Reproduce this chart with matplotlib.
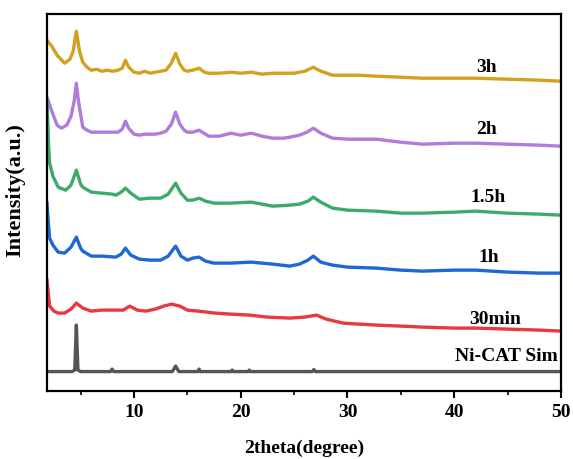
import matplotlib
matplotlib.use("Agg")
import matplotlib.pyplot as plt
from matplotlib.ticker import MultipleLocator

# ---- data (intensity in arbitrary units, vertically stacked as in the figure) ----
x_3h = [1.85, 2.3, 2.8, 3.5, 4.0, 4.3, 4.6, 4.9, 5.2, 5.6, 6.0, 6.5, 7.0, 7.5, 8.0, 8.5, 8.9, 9.2, 9.5,
        10.0, 10.5, 11.0, 11.5, 12.0, 12.5, 13.0, 13.5, 13.9, 14.3, 14.7, 15.0, 15.5, 16.1, 16.6, 17.0,
        18.0, 19.1, 20.0, 21.0, 22.0, 23.0, 24.0, 25.0, 26.0, 26.8, 27.5, 28.6, 30.0, 31.0, 32.7, 35.0,
        37.0, 40.0, 42.0, 45.0, 48.0, 50.0]
y_3h = [351, 345, 336, 328, 332, 340, 360, 340, 329, 324, 321, 322, 320, 321, 320, 321, 323, 331, 324,
        319, 318, 320, 318, 319, 320, 321, 328, 338, 327, 321, 320, 321, 323, 319, 318,
        318, 319, 318, 319, 317, 318, 318, 318, 320, 324, 320, 316, 316, 316, 315, 314,
        313, 313, 313, 312, 311, 310]

x_2h = [1.85, 2.3, 2.8, 3.2, 3.7, 4.1, 4.4, 4.6, 4.8, 5.2, 5.6, 6.0, 7.0, 8.0, 8.5, 8.9, 9.2, 9.5,
        10.0, 10.5, 11.0, 12.0, 12.5, 13.0, 13.5, 13.9, 14.3, 14.7, 15.0, 15.5, 16.1, 16.7, 17.0,
        18.0, 19.1, 20.0, 21.0, 22.0, 23.0, 24.0, 24.6, 25.5, 26.2, 26.8, 27.5, 28.6, 30.0, 31.0,
        32.7, 35.0, 37.0, 40.0, 42.0, 45.0, 48.0, 50.0]
y_2h = [294, 280, 266, 263, 266, 275, 290, 308, 290, 264, 261, 259, 259, 259, 259, 262, 270, 263,
        257, 256, 257, 257, 258, 260, 267, 279, 267, 261, 259, 259, 261, 257, 255,
        255, 258, 256, 258, 255, 253, 253, 254, 256, 259, 263, 258, 253, 252, 252,
        252, 249, 247, 248, 248, 247, 246, 245]

x_15h = [1.85, 2.0, 2.1, 2.4, 2.9, 3.6, 4.1, 4.6, 5.0, 5.2, 6.0, 7.0, 8.0, 8.3, 8.8, 9.2, 9.7,
         10.5, 11.5, 12.5, 13.2, 13.9, 14.4, 15.0, 15.5, 16.1, 16.7, 17.5, 19.0, 21.0, 22.0, 23.0,
         24.6, 25.5, 26.3, 26.8, 27.5, 28.6, 30.0, 32.7, 35.0, 37.0, 40.0, 42.0, 45.0, 48.0, 50.0]
y_15h = [291, 245, 228, 215, 204, 201, 206, 221, 207, 204, 199, 198, 197, 196, 199, 203, 198,
         192, 193, 193, 197, 208, 198, 191, 191, 193, 190, 188, 188, 189, 187, 185,
         186, 187, 190, 194, 189, 183, 181, 180, 178, 178, 179, 180, 178, 177, 176]

x_1h = [1.85, 2.0, 2.1, 2.4, 2.9, 3.5, 4.1, 4.6, 5.0, 5.2, 6.0, 7.0, 8.3, 8.8, 9.2, 9.7,
        10.5, 11.5, 12.5, 13.2, 13.9, 14.4, 15.0, 15.5, 16.1, 16.7, 17.5, 19.0, 21.0, 23.0,
        24.6, 25.5, 26.3, 26.8, 27.5, 28.6, 30.0, 32.7, 35.0, 37.0, 40.0, 42.0, 45.0, 48.0, 50.0]
y_1h = [188, 165, 153, 146, 139, 138, 144, 154, 143, 140, 135, 135, 134, 137, 143, 136,
        132, 131, 131, 135, 145, 135, 131, 133, 134, 130, 128, 128, 129, 127,
        125, 127, 131, 135, 129, 126, 124, 123, 121, 120, 121, 121, 119, 118, 118]

x_30min = [1.85, 2.0, 2.1, 2.5, 2.9, 3.5, 4.1, 4.6, 5.2, 6.0, 7.0, 8.0, 9.0, 9.6, 10.3, 11.1,
           12.0, 12.8, 13.5, 14.3, 15.0, 16.0, 17.6, 19.0, 20.8, 22.5, 24.6, 26.0, 27.1, 28.0,
           29.6, 31.0, 32.7, 35.0, 37.0, 40.0, 42.0, 45.0, 48.0, 50.0]
y_30min = [111, 95, 85, 80, 78, 78, 82, 88, 83, 80, 81, 81, 81, 85, 81, 80,
           82, 85, 87, 85, 81, 80, 78, 77, 76, 74, 73, 74, 76, 72,
           68, 67, 66, 65, 64, 63, 63, 62, 61, 60]

x_sim = [1.85, 4.2, 4.45, 4.6, 4.75, 5.0, 7.8, 7.95, 8.1, 13.6, 13.9, 14.2, 16.0, 16.1, 16.2,
         19.1, 19.2, 19.3, 20.7, 20.8, 20.9, 26.7, 26.85, 27.0, 50.0]
y_sim = [19.5, 19.5, 21, 66, 21, 19.5, 19.5, 22, 19.5, 19.5, 25, 19.5, 19.5, 22, 19.5,
         19.5, 21, 19.5, 19.5, 21, 19.5, 19.5, 21.5, 19.5, 19.5]

labels = ["3h", "2h", "1.5h", "1h", "30min", "Ni-CAT Sim"]
colors = ["#D4A020", "#B07CDA", "#3DAA6C", "#1F68D4", "#E8393E", "#555555"]
label_x = [43.0, 43.0, 43.2, 43.2, 43.8, 44.9]
label_y = [315, 253, 185, 125, 63, 26]

series = [(x_3h, y_3h), (x_2h, y_2h), (x_15h, y_15h), (x_1h, y_1h), (x_30min, y_30min), (x_sim, y_sim)]

plt.rcParams['font.family'] = ['Liberation Serif', 'DejaVu Serif']
plt.rcParams['font.weight'] = 'bold'

fig = plt.figure(figsize=(5.73, 4.59), dpi=100)
ax = fig.add_axes([0.082, 0.148, 0.897, 0.821])

for (xs, ys), c in zip(series, colors):
    ax.plot(xs, ys, color=c, lw=2.4, solid_joinstyle='round')

for t, xx, yy in zip(labels, label_x, label_y):
    ax.text(xx, yy, t, ha='center', va='bottom', fontsize=14, fontweight='bold')

ax.set_xlim(1.85, 50)
ax.set_ylim(0, 377)
ax.set_yticks([])
ax.xaxis.set_major_locator(MultipleLocator(10))
ax.xaxis.set_minor_locator(MultipleLocator(5))
ax.tick_params(axis='x', which='major', direction='out', length=5, width=1.5, labelsize=14, pad=4)
ax.tick_params(axis='x', which='minor', direction='out', length=3, width=1.2)
for lab in ax.get_xticklabels():
    lab.set_fontweight('bold')
for s in ax.spines.values():
    s.set_linewidth(1.6)

ax.set_xlabel("2theta(degree)", fontsize=14, fontweight='bold', labelpad=14)
ax.set_ylabel("Intensity(a.u.)", fontsize=16, fontweight='bold')
ax.yaxis.set_label_coords(-0.042, 0.533)

fig.savefig("out.png", dpi=100)
